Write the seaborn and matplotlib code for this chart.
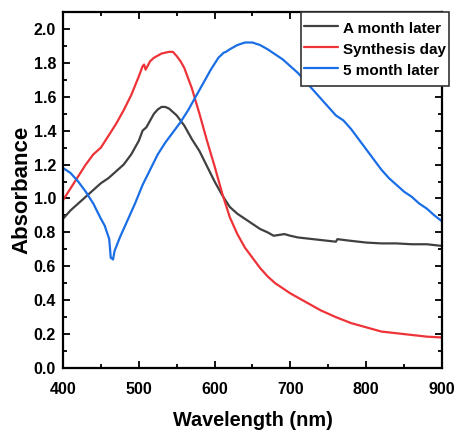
import numpy as np
import pandas as pd
import matplotlib
matplotlib.use("Agg")
import matplotlib.pyplot as plt
import seaborn as sns
from matplotlib.path import Path
from matplotlib.ticker import MultipleLocator, FormatStrFormatter

# UV-Vis spectra of the same sample measured at three ages
wl_month = [400, 410, 420, 430, 440, 450, 460, 470, 480, 490, 500, 505, 510, 515,
            520, 525, 530, 535, 540, 545, 550, 560, 570, 580, 590, 600, 610, 620,
            630, 640, 650, 660, 670, 678, 685, 692, 700, 710, 720, 740, 760, 762,
            780, 800, 820, 840, 860, 880, 900]
abs_month = [0.88, 0.93, 0.97, 1.01, 1.05, 1.09, 1.12, 1.16, 1.20, 1.26, 1.34, 1.40,
             1.42, 1.46, 1.50, 1.525, 1.54, 1.54, 1.53, 1.51, 1.49, 1.43, 1.35, 1.28,
             1.19, 1.10, 1.02, 0.95, 0.91, 0.88, 0.85, 0.82, 0.80, 0.78, 0.785, 0.79,
             0.78, 0.77, 0.765, 0.755, 0.745, 0.76, 0.75, 0.74, 0.735, 0.735, 0.73,
             0.73, 0.72]

wl_synth = [400, 410, 420, 430, 440, 450, 460, 470, 480, 490, 500, 505, 507, 509,
            515, 520, 530, 540, 545, 550, 555, 560, 570, 580, 590, 600, 610, 620,
            630, 640, 650, 660, 670, 680, 690, 700, 720, 740, 760, 780, 800, 820,
            840, 860, 880, 900]
abs_synth = [0.99, 1.06, 1.13, 1.20, 1.26, 1.30, 1.37, 1.44, 1.52, 1.61, 1.72, 1.78,
             1.79, 1.76, 1.81, 1.83, 1.855, 1.865, 1.865, 1.84, 1.81, 1.77, 1.65,
             1.50, 1.34, 1.19, 1.03, 0.89, 0.79, 0.71, 0.65, 0.59, 0.54, 0.50, 0.47,
             0.44, 0.39, 0.34, 0.30, 0.265, 0.24, 0.215, 0.205, 0.195, 0.185, 0.18]

wl_five = [400, 410, 420, 430, 440, 450, 455, 458, 461, 463, 465, 466, 468, 475,
           485, 495, 505, 515, 525, 535, 545, 555, 565, 575, 585, 595, 605, 612,
           615, 620, 630, 640, 650, 660, 670, 680, 690, 700, 710, 720, 730, 740,
           750, 760, 770, 780, 790, 800, 810, 820, 830, 840, 850, 860, 870, 880,
           890, 900]
abs_five = [1.18, 1.15, 1.10, 1.04, 0.97, 0.88, 0.84, 0.80, 0.76, 0.65, 0.645, 0.64,
            0.69, 0.77, 0.87, 0.97, 1.08, 1.17, 1.26, 1.33, 1.39, 1.45, 1.52, 1.60,
            1.68, 1.76, 1.83, 1.86, 1.865, 1.88, 1.905, 1.92, 1.92, 1.905, 1.88,
            1.85, 1.82, 1.78, 1.74, 1.69, 1.64, 1.59, 1.54, 1.49, 1.46, 1.41, 1.35,
            1.29, 1.23, 1.17, 1.12, 1.08, 1.04, 1.01, 0.97, 0.94, 0.90, 0.865]

labels = ["A month later", "Synthesis day", "5 month later"]
colors = ["#404040", "#ee3338", "#1a6ee6"]

df = pd.concat([
    pd.DataFrame({"Wavelength": wl_month, "Absorbance": abs_month, "Sample": labels[0]}),
    pd.DataFrame({"Wavelength": wl_synth, "Absorbance": abs_synth, "Sample": labels[1]}),
    pd.DataFrame({"Wavelength": wl_five, "Absorbance": abs_five, "Sample": labels[2]}),
], ignore_index=True)

sns.set_theme(style="ticks")
plt.rcParams["font.family"] = ["Liberation Sans", "DejaVu Sans"]
plt.rcParams["font.weight"] = "bold"
plt.rcParams["text.color"] = "black"
plt.rcParams["axes.labelcolor"] = "black"

fig = plt.figure(figsize=(4.56, 4.32), dpi=100)
ax = fig.add_axes([63 / 456, (432 - 368) / 432, 379 / 456, 356 / 432])

sns.lineplot(data=df, x="Wavelength", y="Absorbance", hue="Sample",
             hue_order=labels, palette=colors, sort=False, linewidth=1.6,
             estimator=None, ax=ax)

ax.set_xlim(400, 900)
ax.set_ylim(0, 2.1)
ax.xaxis.set_major_locator(MultipleLocator(100))
ax.xaxis.set_minor_locator(MultipleLocator(50))
ax.yaxis.set_major_locator(MultipleLocator(0.2))
ax.yaxis.set_minor_locator(MultipleLocator(0.1))
ax.yaxis.set_major_formatter(FormatStrFormatter("%.1f"))

for s in ax.spines.values():
    s.set_linewidth(1.6)
    s.set_color("black")
ax.tick_params(which="both", direction="in", top=True, right=True,
               width=1.3, colors="black", labelsize=11.5)
ax.tick_params(axis="x", which="major", pad=10)
ax.tick_params(axis="y", which="major", pad=5)
ax.tick_params(which="major", length=5)
ax.tick_params(which="minor", length=3)
for lbl in ax.get_xticklabels() + ax.get_yticklabels():
    lbl.set_fontweight("bold")

ax.set_xlabel("Wavelength (nm)", fontsize=14.3, fontweight="bold", labelpad=10.5)
ax.set_ylabel("Absorbance", fontsize=16, fontweight="bold", labelpad=1)

# legend frame with a little extra room above and below the entries
EXTRA_V = 4.2  # pixels


def tall_square(x0, y0, width, height, mutation_scale):
    x1, y1 = x0 + width, y0 + height
    y0 -= EXTRA_V
    y1 += EXTRA_V
    return Path([(x0, y0), (x1, y0), (x1, y1), (x0, y1), (x0, y0)],
                [Path.MOVETO, Path.LINETO, Path.LINETO, Path.LINETO, Path.CLOSEPOLY])


leg = ax.legend(loc="upper right", bbox_to_anchor=(1.018, 1.0 - EXTRA_V / 356),
                borderaxespad=0, frameon=True, fancybox=False, framealpha=1,
                edgecolor="#333333", fontsize=11.0, handlelength=2.25,
                handleheight=1.36, handletextpad=0.3, borderpad=0.2,
                labelspacing=0.25, title=None)
leg.get_frame().set_boxstyle(tall_square)
leg.get_frame().set_linewidth(1.2)
for t in leg.get_texts():
    t.set_fontweight("bold")
for h in leg.get_lines():
    h.set_linewidth(1.6)

fig.savefig("out.png", dpi=100)
